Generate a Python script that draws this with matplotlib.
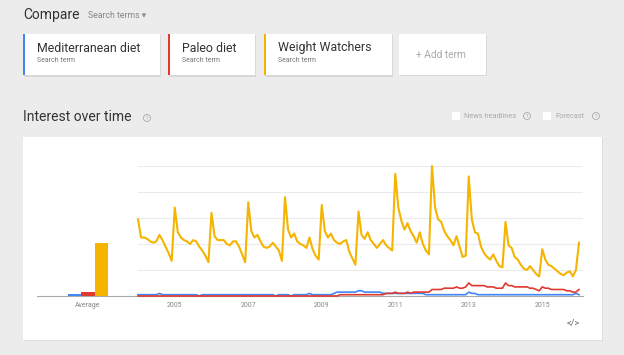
import matplotlib.pyplot as plt
from matplotlib.patches import Rectangle, Circle

plt.rcParams['font.family'] = ['Roboto', 'DejaVu Sans']

terms = ['Mediterranean diet', 'Paleo diet', 'Weight Watchers']
colors = ['#4285f4', '#e0392e', '#f4b400']
averages = [1.5, 3, 41]

# monthly values, Jan 2004 .. Jan 2016
mediterranean = [
    1, 1, 1, 1, 1, 1, 1, 2, 1, 1, 1, 1,
    1, 1, 1, 1, 1, 1, 1, 1, 0, 1, 1, 1,
    1, 1, 1, 1, 1, 1, 1, 1, 1, 1, 1, 1,
    1, 1, 1, 1, 1, 1, 1, 1, 1, 0, 1, 1,
    1, 1, 0, 1, 1, 1, 1, 1, 2, 1, 1, 1,
    1, 1, 1, 1, 2, 3, 3, 3, 3, 3, 3, 3,
    4, 4, 3, 3, 3, 3, 3, 3, 2, 2, 2, 2,
    2, 2, 2, 2, 2, 2, 2, 2, 2, 2, 1, 1,
    1, 1, 1, 1, 1, 1, 1, 1, 1, 1, 1, 1,
    3, 2, 2, 1, 1, 1, 1, 1, 1, 1, 1, 1,
    1, 1, 1, 1, 1, 1, 1, 1, 1, 1, 1, 1,
    1, 1, 1, 1, 1, 1, 1, 1, 1, 1, 1, 2,
    1,
]
paleo = [
    0, 0, 0, 0, 0, 0, 0, 0, 0, 0, 0, 0,
    0, 0, 0, 0, 0, 0, 0, 0, 0, 0, 0, 0,
    0, 0, 0, 0, 0, 0, 0, 0, 0, 0, 0, 0,
    0, 0, 0, 0, 0, 0, 0, 0, 0, 0, 0, 0,
    0, 0, 0, 0, 0, 0, 0, 0, 0, 0, 0, 0,
    0, 0, 0, 0, 0, 0, 1, 1, 1, 1, 1, 1,
    1, 1, 1, 1, 1, 1, 1, 1, 1, 2, 2, 2,
    3, 2, 2, 2, 3, 2, 3, 3, 3, 3, 3, 3,
    5, 5, 5, 5, 6, 6, 6, 6, 7, 6, 6, 7,
    10, 8, 8, 8, 8, 8, 7, 7, 7, 6, 6, 6,
    10, 8, 8, 7, 7, 7, 7, 7, 6, 6, 5, 4,
    7, 6, 6, 5, 5, 5, 5, 5, 4, 4, 3, 3,
    5,
]
weight_watchers = [
    59, 45, 45, 44, 42, 41, 42, 47, 43, 38, 33, 27,
    68, 49, 45, 43, 42, 40, 43, 42, 38, 35, 31, 26,
    64, 46, 43, 43, 43, 40, 39, 42, 42, 38, 32, 26,
    72, 50, 45, 47, 42, 38, 37, 38, 41, 38, 35, 27,
    76, 51, 45, 48, 42, 40, 39, 37, 45, 36, 31, 28,
    70, 50, 45, 48, 43, 41, 40, 42, 43, 34, 29, 24,
    65, 47, 44, 49, 43, 40, 37, 40, 43, 39, 37, 35,
    94, 68, 58, 51, 56, 50, 46, 41, 49, 40, 35, 32,
    100, 68, 59, 57, 50, 46, 43, 39, 46, 38, 30, 31,
    92, 59, 49, 48, 38, 33, 30, 28, 32, 27, 23, 22,
    57, 39, 37, 30, 28, 24, 21, 20, 23, 20, 17, 15,
    36, 28, 24, 23, 21, 19, 17, 16, 18, 19, 15, 20,
    41,
]
year_ticks = [2005, 2007, 2009, 2011, 2013, 2015]

months = [2004 + i / 12 for i in range(len(weight_watchers))]
series = [mediterranean, paleo, weight_watchers]

W, H = 624, 355
fig = plt.figure(figsize=(W / 100, H / 100), dpi=100, facecolor='#ececec')

# page decorations in pixel coordinates
bg = fig.add_axes([0, 0, 1, 1])
bg.set_xlim(0, W)
bg.set_ylim(H, 0)
bg.axis('off')

bg.text(23, 15, 'Compare', fontsize=10, color='#333333', va='center')
bg.text(88, 16, 'Search terms \u25be', fontsize=6.3, color='#888888', va='center')

cards = [(23, 137), (168, 87), (264, 128)]
for (x0, w), term, c in zip(cards, terms, colors):
    bg.add_patch(Rectangle((x0 + 1, 35), w, 42, color='#d8d8d8', lw=0))
    bg.add_patch(Rectangle((x0, 34), w, 41, color='white', lw=0))
    bg.add_patch(Rectangle((x0, 34), 2, 41, color=c, lw=0))
    bg.text(x0 + 14, 48, term, fontsize=8.9, color='#333333', va='center')
    bg.text(x0 + 14, 61, 'Search term', fontsize=5, color='#777777', va='center')
bg.add_patch(Rectangle((400, 35), 87, 41, color='#d8d8d8', lw=0))
bg.add_patch(Rectangle((399, 34), 87, 41, color='white', lw=0))
bg.text(441, 55, '+ Add term', fontsize=7.3, color='#aaaaaa', va='center', ha='center')

bg.text(23, 117, 'Interest over time', fontsize=10, color='#333333', va='center')
bg.add_patch(Circle((147, 118), 3.5, fill=False, ec='#aaaaaa', lw=0.6))
bg.text(147, 118, '?', fontsize=3.5, color='#aaaaaa', ha='center', va='center')

for cx, label, qx in [(452, 'News headlines', 527), (543, 'Forecast', 596)]:
    bg.add_patch(Rectangle((cx, 112), 8, 8, color='white', lw=0))
    bg.text(cx + 12, 116, label, fontsize=5.3, color='#aaaaaa', va='center')
    bg.add_patch(Circle((qx, 116), 3.5, fill=False, ec='#aaaaaa', lw=0.6))
    bg.text(qx, 116, '?', fontsize=3.5, color='#aaaaaa', ha='center', va='center')

bg.add_patch(Rectangle((24, 138), 579, 203, color='#dddddd', lw=0))
bg.add_patch(Rectangle((23, 137), 579, 203, color='white', lw=0))
bg.text(573, 324, '</>', fontsize=6.5, color='#666666', ha='center', va='center')

# baseline under both sections
bg.plot([37, 583], [296, 296], color='#aaaaaa', lw=0.8)

# average bars
ax_avg = fig.add_axes([37 / W, (H - 296) / H, 80 / W, 130 / H])
ax_avg.set_facecolor('none')
ax_avg.bar([0, 1, 2], averages, width=0.95, color=colors)
ax_avg.set_xlim(-2.7, 3.1)
ax_avg.set_ylim(0, 100)
ax_avg.set_xticks([1])
ax_avg.set_xticklabels(['Average'], fontsize=5, color='#888888')
ax_avg.set_yticks([])
ax_avg.tick_params(length=0, pad=4)
for s in ax_avg.spines.values():
    s.set_visible(False)

# interest over time
ax = fig.add_axes([138 / W, (H - 296) / H, 445 / W, 130 / H])
ax.set_facecolor('none')
for vals, c, lw in zip(series, colors, [1.2, 1.2, 1.5]):
    ax.plot(months, vals, color=c, lw=lw, clip_on=False, solid_joinstyle='round')
ax.set_xlim(2004, 2004 + 445 / 36.75)
ax.set_ylim(0, 100)
ax.set_yticks([20, 40, 60, 80, 100])
ax.set_yticklabels([])
ax.grid(axis='y', color='#ebebeb', lw=0.8)
ax.set_axisbelow(True)
ax.set_xticks(year_ticks)
ax.set_xticklabels([str(y) for y in year_ticks], fontsize=5, color='#888888')
ax.tick_params(length=0, pad=4)
for s in ax.spines.values():
    s.set_visible(False)

fig.savefig('out.png', dpi=100, facecolor=fig.get_facecolor())
